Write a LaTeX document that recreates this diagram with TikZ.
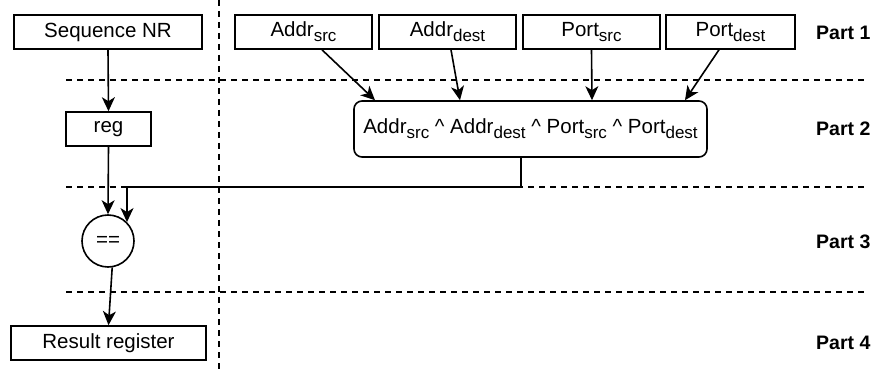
\documentclass[tikz,border=0pt]{standalone}
\usepackage{fontspec}
\setmainfont{Liberation Sans}
\usetikzlibrary{arrows.meta,calc}

% lowered, smaller subscript as used in the labels
\newcommand\lowsub[1]{\raisebox{-0.23em}{\fontsize{17}{19}\selectfont #1}}

\tikzset{
  base/.style={font=\fontsize{20.5}{24}\selectfont, inner sep=0pt},
  box/.style={base, draw, line width=1.6pt},
  roundbox/.style={box, rounded corners=8pt},
  eqcircle/.style={base, draw, circle, line width=1.6pt, minimum size=52pt},
  partlabel/.style={font=\fontsize{19.5}{23}\selectfont\bfseries, inner sep=0pt, anchor=west},
  conn/.style={line width=1.6pt, -{Stealth[length=14pt, width=13pt, inset=4pt]}},
  sep/.style={line width=1.4pt, dash pattern=on 6pt off 5pt},
}

\begin{document}
\begin{tikzpicture}[x=1pt, y=-1pt]
  \useasboundingbox (0,0) rectangle (875,374);

  % separators between the parts
  \draw[sep] (219,0) -- (219,374);
  \draw[sep] (66,80) -- (866,80);
  \draw[sep] (66,187) -- (866,187);
  \draw[sep] (66,292) -- (866,292);

  % left column
  \node[box, minimum width=188pt, minimum height=34pt] (seq) at (108,32) {Sequence NR};
  \node[box, minimum width=85pt, minimum height=34pt] (reg) at (108.5,129) {reg};
  \node[eqcircle] (eq) at (108,241) {==};
  \node[box, minimum width=195pt, minimum height=34pt] (res) at (108.5,343) {Result register};

  % inputs of the hash
  \node[box, minimum width=137pt, minimum height=34pt] (asrc) at (303.5,32) {Addr\lowsub{src}};
  \node[box, minimum width=137pt, minimum height=34pt] (adst) at (447.5,32) {Addr\lowsub{dest}};
  \node[box, minimum width=137pt, minimum height=34pt] (psrc) at (591.5,32) {Port\lowsub{src}};
  \node[box, minimum width=129pt, minimum height=34pt] (pdst) at (730.5,32) {Port\lowsub{dest}};

  % combined hash
  \node[roundbox, minimum width=353pt, minimum height=56pt] (hash) at (530.5,129)
    {Addr\lowsub{src} \textasciicircum{} Addr\lowsub{dest} \textasciicircum{} Port\lowsub{src} \textasciicircum{} Port\lowsub{dest}};

  % part labels
  \node[partlabel] (p1) at (816,33) {Part 1};
  \node[partlabel] (p2) at (816,129) {Part 2};
  \node[partlabel] (p3) at (816,242) {Part 3};
  \node[partlabel] (p4) at (816,343) {Part 4};

  % connectors
  \draw[conn] (seq.south) -- (reg.north);
  \draw[conn] (reg.south) -- (eq.north);
  \draw[conn] (eq.-81) -- (res.north);

  \draw[conn] ([xshift=18.5pt]asrc.south) -- ([xshift=-155.5pt]hash.north);
  \draw[conn] ([xshift=3.5pt]adst.south) -- ([xshift=-70.5pt]hash.north);
  \draw[conn] (psrc.south) -- ([xshift=61.5pt]hash.north);
  \draw[conn] ([xshift=-11.5pt]pdst.south) -- ([xshift=154.5pt]hash.north);

  \coordinate (bend) at (127,187);
  \draw[conn] ([xshift=-9.5pt]hash.south) |- (bend) -- (bend |- eq.north east);
\end{tikzpicture}
\end{document}
